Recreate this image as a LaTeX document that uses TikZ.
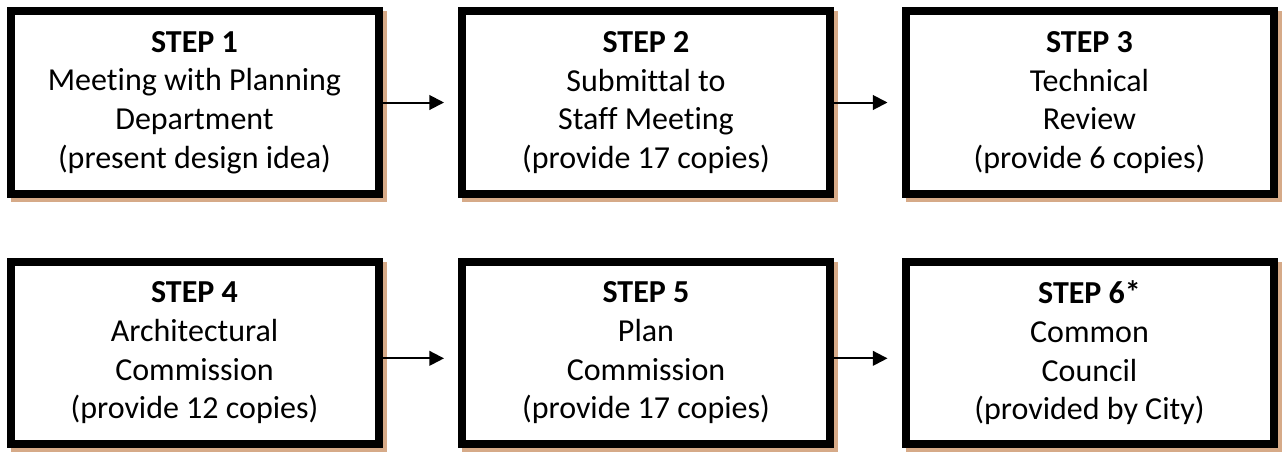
\documentclass[tikz,border=0pt]{standalone}
\usepackage{fontspec}
\setmainfont[Ligatures=NoCommon]{Carlito}
\usetikzlibrary{arrows.meta}
\definecolor{shadowtan}{RGB}{214,170,136}

\begin{document}
\begin{tikzpicture}[x=0.75pt, y=-0.75pt,
		stepbox/.style={draw=black, fill=white, line width=6pt, minimum width=276pt, minimum height=137pt,
			align=center, font=\fontsize{24}{29}\selectfont,
			preaction={draw=shadowtan, line width=6pt, transform canvas={shift={(3pt,-3pt)}}}},
		flow/.style={line width=1.5pt, -{Triangle[length=11pt, width=11pt]}, shorten >=10.5pt}]
		\useasboundingbox (0, 0) rectangle (1283, 455);
		
		\node[stepbox] (s1) at (194.5, 102.5) {\textbf{STEP 1}\\Meeting with Planning\\Department\\(present design idea)};
		\node[stepbox] (s2) at (646, 102.5) {\textbf{STEP 2}\\Submittal to\\Staff Meeting\\(provide 17 copies)};
		\node[stepbox] (s3) at (1089.5, 102.5) {\textbf{STEP 3}\\Technical\\Review\\(provide 6 copies)};
		
		\node[stepbox] (s4) at (194.5, 353) {\textbf{STEP 4}\\Architectural\\Commission\\(provide 12 copies)};
		\node[stepbox] (s5) at (646, 353) {\textbf{STEP 5}\\Plan\\Commission\\(provide 17 copies)};
		\node[stepbox] (s6) at (1089.5, 353) {\textbf{STEP 6*}\\Common\\Council\\(provided by City)};
		
		\foreach \a/\b in {s1/s2, s2/s3} \draw[flow] (\a) -- (\b);
		\foreach \a/\b in {s4/s5, s5/s6} \draw[flow] ([yshift=-4pt]\a.east) -- ([yshift=-4pt]\b.west);
\end{tikzpicture}
\end{document}
